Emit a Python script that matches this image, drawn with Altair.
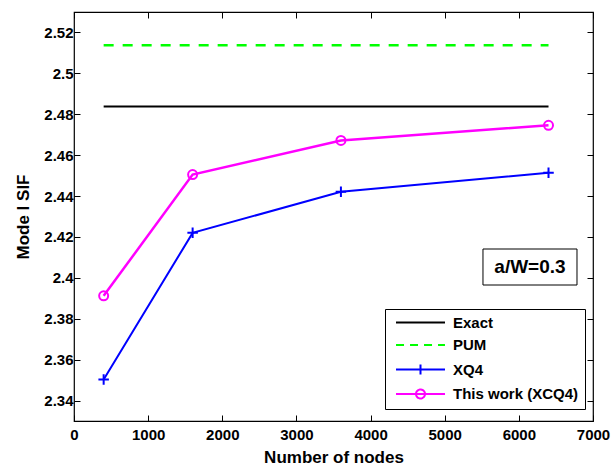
import altair as alt
import pandas as pd

# Mesh sizes (number of nodes) and computed mode-I stress intensity factors
nodes = [400, 1600, 3600, 6400]
xq4_sif = [2.3503, 2.4220, 2.4421, 2.4514]
xcq4_sif = [2.3912, 2.4505, 2.4672, 2.4746]

# Reference solutions, drawn as horizontal lines across the node range
ref_nodes = [400, 6400]
exact_sif = [2.4838, 2.4838]
pum_sif = [2.5137, 2.5137]

series_names = ["Exact", "PUM", "XQ4", "This work (XCQ4)"]
series_colors = ["#000000", "#00ff00", "#0000ff", "#ff00ff"]

x_ticks = [0, 1000, 2000, 3000, 4000, 5000, 6000, 7000]
y_ticks = [2.34, 2.36, 2.38, 2.40, 2.42, 2.44, 2.46, 2.48, 2.50, 2.52]

annotation_text = "a/W=0.3"
# annotation box corners and text anchor, in data units
box_x = [5516, 6784]
box_y = [2.3965, 2.4141]
text_xy = [6150, 2.4053]

FONT = "Liberation Sans"

exact_df = pd.DataFrame({"nodes": ref_nodes, "sif": exact_sif})
pum_df = pd.DataFrame({"nodes": ref_nodes, "sif": pum_sif})
xq4_df = pd.DataFrame({"nodes": nodes, "sif": xq4_sif})
xcq4_df = pd.DataFrame({"nodes": nodes, "sif": xcq4_sif})
series_df = pd.DataFrame({"series": series_names})
box_df = pd.DataFrame({"x0": [box_x[0]], "x1": [box_x[1]], "y0": [box_y[0]], "y1": [box_y[1]]})
text_df = pd.DataFrame({"tx": [text_xy[0]], "ty": [text_xy[1]], "label": [annotation_text]})

x_scale = alt.Scale(domain=[0, 7000], nice=False, zero=False)
y_scale = alt.Scale(domain=[2.33, 2.53], nice=False, zero=False)

# inward ticks: shift each axis into the plot by its tick length
tick_len = 6
axis_common = dict(offset=-tick_len, tickSize=tick_len, tickColor="black", tickWidth=1,
                   domain=False, grid=False)

x_bottom = alt.Axis(orient="bottom", values=x_ticks, format="d", title="Number of nodes",
                    labelPadding=6, titlePadding=7, labelFlush=False, **axis_common)
x_top = alt.Axis(orient="top", values=x_ticks, labels=False, title=None, **axis_common)
y_left = alt.Axis(orient="left", values=y_ticks, format="~g", title="Mode I SIF",
                  labelPadding=1, titlePadding=11, **axis_common)
y_right = alt.Axis(orient="right", values=y_ticks, labels=False, title=None, **axis_common)


def xy(df_x_axis, df_y_axis):
    return dict(
        x=alt.X("nodes:Q", scale=x_scale, axis=df_x_axis),
        y=alt.Y("sif:Q", scale=y_scale, axis=df_y_axis),
    )


exact_line = alt.Chart(exact_df).mark_line(color="#000000", strokeWidth=2).encode(
    **xy(x_bottom, y_left))
pum_line = alt.Chart(pum_df).mark_line(color="#00ff00", strokeWidth=2.5, strokeDash=[10, 9]).encode(
    **xy(x_top, y_right))
xq4_line = alt.Chart(xq4_df).mark_line(color="#0000ff", strokeWidth=2).encode(**xy(None, None))
xq4_pts = alt.Chart(xq4_df).mark_point(
    shape="M-1,0H1M0,-1V1", size=110, filled=False, color="#0000ff", strokeWidth=2, opacity=1
).encode(**xy(None, None))
xcq4_line = alt.Chart(xcq4_df).mark_line(color="#ff00ff", strokeWidth=2.5).encode(**xy(None, None))
xcq4_pts = alt.Chart(xcq4_df).mark_point(
    shape="circle", size=81, filled=False, color="#ff00ff", strokeWidth=2, opacity=1
).encode(**xy(None, None))

box = alt.Chart(box_df).mark_rect(fill="white", stroke="black", strokeWidth=1).encode(
    x=alt.X("x0:Q", scale=x_scale, axis=None), x2="x1:Q",
    y=alt.Y("y0:Q", scale=y_scale, axis=None), y2="y1:Q",
)
box_text = alt.Chart(text_df).mark_text(
    font=FONT, fontSize=19, fontWeight="bold", color="black", align="center", baseline="middle"
).encode(
    x=alt.X("tx:Q", scale=x_scale, axis=None),
    y=alt.Y("ty:Q", scale=y_scale, axis=None),
    text="label:N",
)

# legend symbols: a line segment with the series marker on it
# (symbolSize 144 -> 6 px per path unit, so +-4.08 units spans about 49 px)
legend_shapes = [
    "M-4.08,0H4.08",
    "M-4.08,0H4.08",
    "M-4.08,0H4.08M0,-0.83V0.83",
    "M-4.08,0H4.08M0.75,0A0.75,0.75 0 1,1 -0.75,0A0.75,0.75 0 1,1 0.75,0",
]
legend_dashes = [[1, 0], [8, 6], [1, 0], [1, 0]]

legend = alt.Legend(
    orient="none", legendX=311, legendY=297, title=None,
    symbolSize=144, symbolStrokeWidth=2, symbolOffset=22, labelOffset=25,
    padding=6, rowPadding=6.5,
    strokeColor="black", fillColor="white", cornerRadius=0,
    labelFont=FONT, labelFontSize=15, labelFontWeight="bold", labelColor="black",
    labelLimit=300,
)

legend_layer = alt.Chart(series_df).mark_point(filled=False, opacity=1, strokeWidth=2).encode(
    color=alt.Color("series:N", scale=alt.Scale(domain=series_names, range=series_colors), legend=legend),
    shape=alt.Shape("series:N", scale=alt.Scale(domain=series_names, range=legend_shapes), legend=legend),
    strokeDash=alt.StrokeDash("series:N", scale=alt.Scale(domain=series_names, range=legend_dashes),
                              legend=legend),
).transform_filter("false")

chart = alt.layer(
    box, box_text, exact_line, pum_line, xq4_line, xq4_pts, xcq4_line, xcq4_pts, legend_layer
).resolve_axis(
    x="independent", y="independent"
).properties(
    width=519, height=409,
    autosize=alt.AutoSizeParams(type="none"),
    padding={"left": 74, "top": 12, "right": 20, "bottom": 44},
    background="white",
).configure_view(
    stroke="black", strokeWidth=1.2
).configure_axis(
    labelFont=FONT, labelFontSize=15, labelFontWeight="bold", labelColor="black",
    titleFont=FONT, titleFontSize=17, titleFontWeight="bold", titleColor="black",
)

chart.save("out.html", embed_options={"renderer": "svg", "actions": False})
